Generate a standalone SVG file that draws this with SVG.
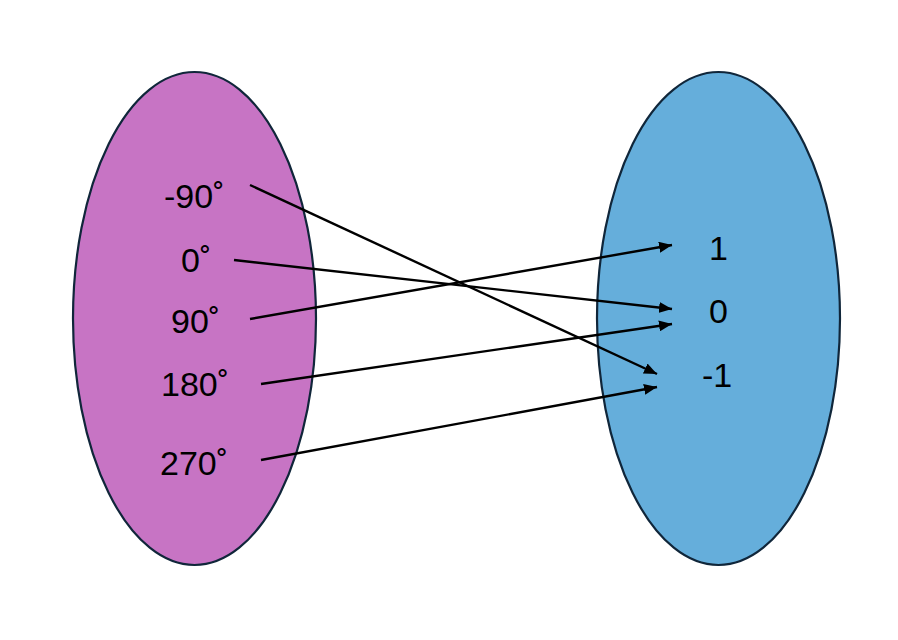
<svg xmlns="http://www.w3.org/2000/svg" width="898" height="640" viewBox="0 0 898 640">
<style>
.set{stroke:#10263A;stroke-width:2.2}
.lbl{font-family:"Liberation Sans",Arial,sans-serif;font-size:34px;fill:#000}
.arr{stroke:#000;stroke-width:2.4;fill:none;marker-end:url(#ah)}
</style>
<defs>
<marker id="ah" viewBox="0 0 13 11" refX="13" refY="5.5" markerWidth="13" markerHeight="11" markerUnits="userSpaceOnUse" orient="auto">
<path d="M0,0 L13,5.5 L0,11 Z" fill="#000"/>
</marker>
</defs>
<rect width="898" height="640" fill="#fff"/>
<g id="domain">
<ellipse class="set" cx="194.5" cy="318.5" rx="121.5" ry="246.5" fill="#C774C4"/>
<text class="lbl" x="164" y="208">-90˚</text>
<text class="lbl" x="181" y="272">0˚</text>
<text class="lbl" x="171" y="333">90˚</text>
<text class="lbl" x="161" y="396">180˚</text>
<text class="lbl" x="160" y="475">270˚</text>
</g>
<g id="range">
<ellipse class="set" cx="718.5" cy="318.5" rx="121.5" ry="246.5" fill="#65AEDB"/>
<text class="lbl" x="709" y="260">1</text>
<text class="lbl" x="709" y="323">0</text>
<text class="lbl" x="702" y="387">-1</text>
</g>
<g id="connectors">
<line class="arr" x1="250" y1="185" x2="657" y2="374"/>
<line class="arr" x1="234" y1="260" x2="672" y2="309"/>
<line class="arr" x1="250" y1="319" x2="672" y2="245"/>
<line class="arr" x1="261" y1="384" x2="672" y2="324"/>
<line class="arr" x1="261" y1="460" x2="657" y2="387"/>
</g>
</svg>
